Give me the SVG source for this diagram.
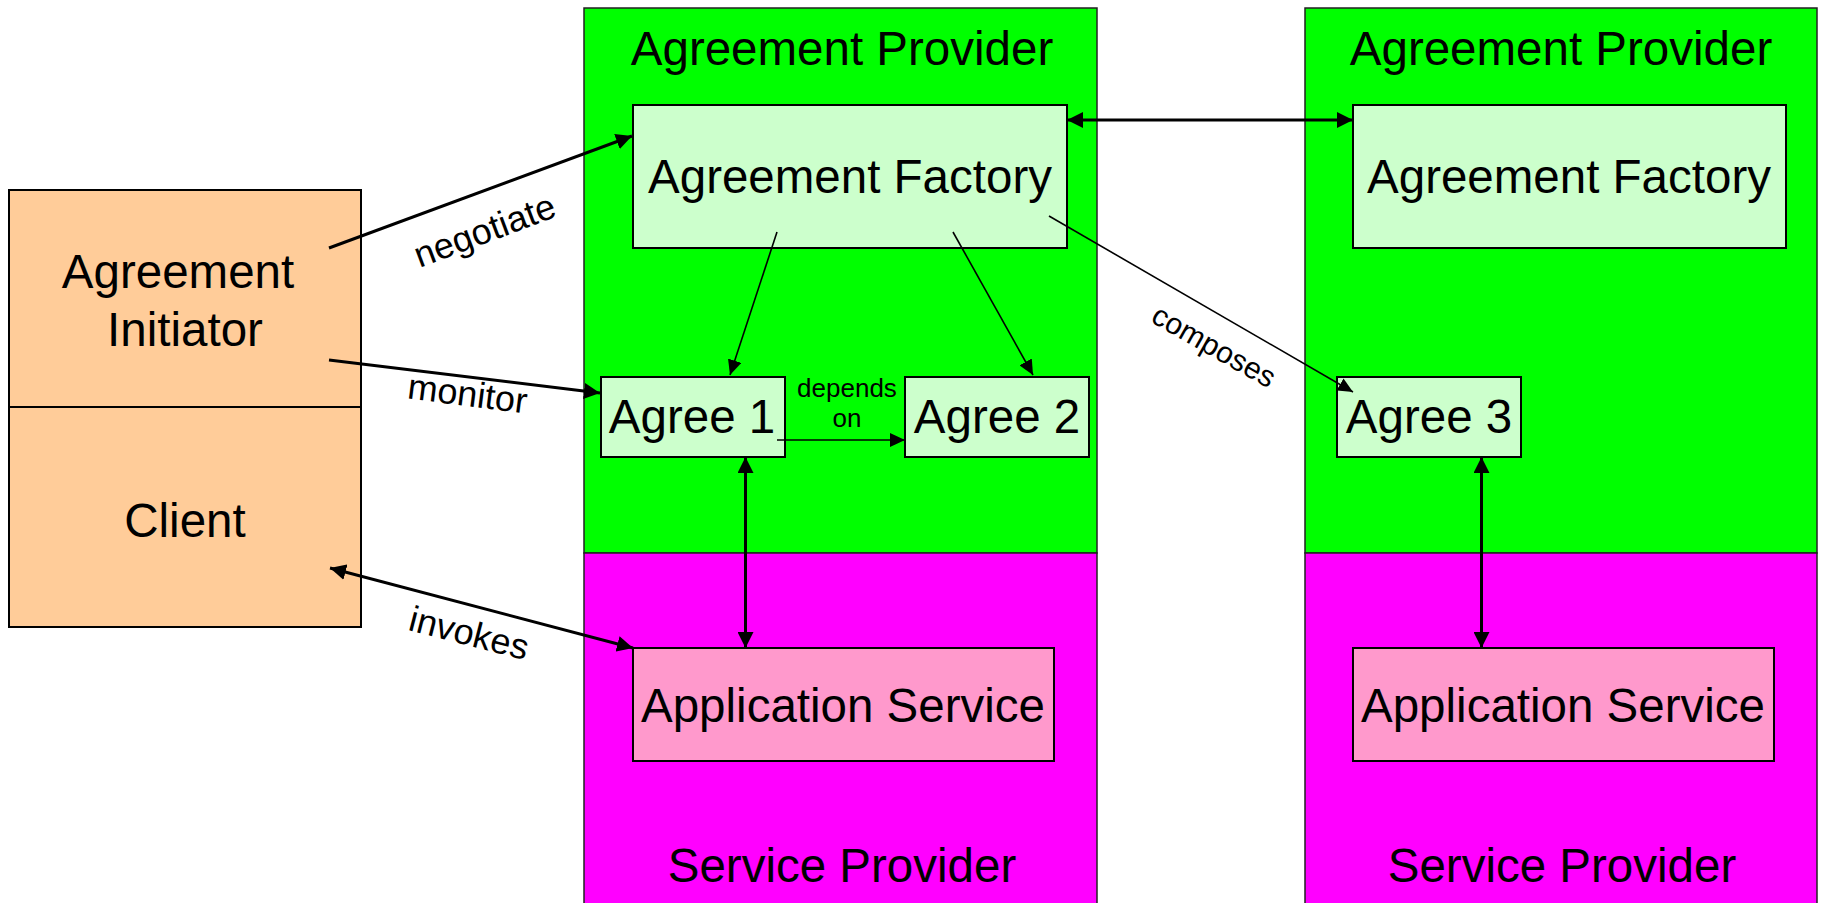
<svg xmlns="http://www.w3.org/2000/svg" width="1821" height="903" viewBox="0 0 1821 903">
  <defs>
    <style>
      text { font-family: "Liberation Sans", Arial, sans-serif; fill: #000; }
      .big { font-size: 47.5px; text-anchor: middle; }
      .lbl { font-size: 36px; text-anchor: middle; }
      .sm { font-size: 26px; text-anchor: middle; }
      .col { stroke: #222; stroke-width: 1.5; }
      .green { fill: #00ff00; }
      .magenta { fill: #ff00ff; }
      .box { stroke: #000; stroke-width: 2; }
      .agr { fill: #ccffcc; }
      .app { fill: #ff99cc; }
      .party { fill: #ffcc99; }
      .thick { stroke: #000; stroke-width: 3; fill: none; }
      .thin { stroke: #000; stroke-width: 1.6; fill: none; }
    </style>
    <marker id="head" markerUnits="userSpaceOnUse" markerWidth="16" markerHeight="16" refX="16" refY="8" orient="auto">
      <path d="M0,0 L16,8 L0,16 z" fill="#000"/>
    </marker>
    <marker id="tail" markerUnits="userSpaceOnUse" markerWidth="16" markerHeight="16" refX="16" refY="8" orient="auto-start-reverse">
      <path d="M0,0 L16,8 L0,16 z" fill="#000"/>
    </marker>
    <marker id="headSm" markerUnits="userSpaceOnUse" markerWidth="15" markerHeight="14" refX="15" refY="7" orient="auto">
      <path d="M0,0 L15,7 L0,14 z" fill="#000"/>
    </marker>
  </defs>

  <rect width="1821" height="903" fill="#fff"/>

  <!-- left party: initiator over client -->
  <g id="initiator">
    <rect class="party box" x="9" y="190" width="352" height="217"/>
    <text class="big" x="178" y="288">Agreement</text>
    <text class="big" x="185" y="346">Initiator</text>
  </g>
  <g id="client">
    <rect class="party box" x="9" y="407" width="352" height="220"/>
    <text class="big" x="185" y="537">Client</text>
  </g>

  <!-- middle provider column -->
  <g id="provider-a">
    <rect class="green col" x="584" y="8" width="513" height="545"/>
    <text class="big" x="842" y="65">Agreement Provider</text>
  </g>
  <g id="service-provider-a">
    <rect class="magenta col" x="584" y="553" width="513" height="360"/>
    <text class="big" x="842" y="882">Service Provider</text>
  </g>

  <!-- right provider column -->
  <g id="provider-b">
    <rect class="green col" x="1305" y="8" width="512" height="545"/>
    <text class="big" x="1561" y="65">Agreement Provider</text>
  </g>
  <g id="service-provider-b">
    <rect class="magenta col" x="1305" y="553" width="512" height="360"/>
    <text class="big" x="1562" y="882">Service Provider</text>
  </g>

  <g id="factory-a">
    <rect class="agr box" x="633" y="105" width="434" height="143"/>
    <text class="big" x="850" y="193">Agreement Factory</text>
  </g>
  <g id="factory-b">
    <rect class="agr box" x="1353" y="105" width="433" height="143"/>
    <text class="big" x="1569" y="193">Agreement Factory</text>
  </g>

  <g id="agree1">
    <rect class="agr box" x="601" y="377" width="184" height="80"/>
    <text class="big" x="692" y="433">Agree 1</text>
  </g>
  <g id="agree2">
    <rect class="agr box" x="905" y="377" width="184" height="80"/>
    <text class="big" x="997" y="433">Agree 2</text>
  </g>
  <g id="agree3">
    <rect class="agr box" x="1337" y="377" width="184" height="80"/>
    <text class="big" x="1429" y="433">Agree 3</text>
  </g>

  <g id="app-service-a">
    <rect class="app box" x="633" y="648" width="421" height="113"/>
    <text class="big" x="843" y="722">Application Service</text>
  </g>
  <g id="app-service-b">
    <rect class="app box" x="1353" y="648" width="421" height="113"/>
    <text class="big" x="1563" y="722">Application Service</text>
  </g>

  <g id="connectors">
    <!-- negotiate -->
    <line class="thick" x1="329" y1="248" x2="632" y2="136" marker-end="url(#head)"/>
    <text class="lbl" x="489" y="242" transform="rotate(-20.5 489 242)">negotiate</text>
    <!-- monitor -->
    <line class="thick" x1="329" y1="360" x2="600" y2="393" marker-end="url(#head)"/>
    <text class="lbl" x="466" y="406" transform="rotate(7.3 466 406)">monitor</text>
    <!-- invokes -->
    <line class="thick" x1="330" y1="568" x2="633" y2="648" marker-start="url(#tail)" marker-end="url(#head)"/>
    <text class="lbl" x="466" y="645" transform="rotate(14.5 466 645)">invokes</text>
    <!-- factory to factory -->
    <line class="thick" x1="1067" y1="120" x2="1353" y2="120" marker-start="url(#tail)" marker-end="url(#head)"/>
    <!-- factory creates agreements -->
    <line class="thin" x1="777" y1="232" x2="730" y2="375" marker-end="url(#headSm)"/>
    <line class="thin" x1="953" y1="232" x2="1033" y2="375" marker-end="url(#headSm)"/>
    <!-- depends on -->
    <line class="thin" x1="777" y1="440" x2="905" y2="440" marker-end="url(#headSm)"/>
    <text class="sm" x="847" y="397">depends</text>
    <text class="sm" x="847" y="427">on</text>
    <!-- composes -->
    <line class="thin" x1="1049" y1="216" x2="1353" y2="392" marker-end="url(#headSm)"/>
    <text font-size="30" text-anchor="middle" x="1209" y="355" transform="rotate(29.5 1209 355)">composes</text>
    <!-- agreement to service -->
    <line class="thick" x1="745.5" y1="457" x2="745.5" y2="648" marker-start="url(#tail)" marker-end="url(#head)"/>
    <line class="thick" x1="1481.5" y1="457" x2="1481.5" y2="648" marker-start="url(#tail)" marker-end="url(#head)"/>
  </g>
</svg>
